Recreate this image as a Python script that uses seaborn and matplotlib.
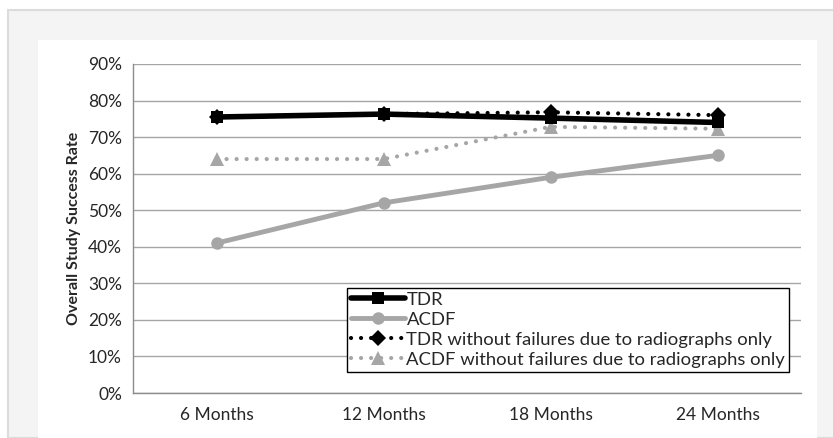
import matplotlib
matplotlib.use("Agg")
import matplotlib.pyplot as plt
import seaborn as sns
import numpy as np
from matplotlib.patches import Rectangle

# data
categories = ["6 Months", "12 Months", "18 Months", "24 Months"]
tdr = [75.5, 76.3, 75.2, 74.0]
acdf = [41.0, 52.0, 59.0, 65.0]
tdr_no_rad = [75.5, 76.3, 76.8, 76.0]
acdf_no_rad = [64.0, 64.0, 72.8, 72.3]

yticks = [0, 10, 20, 30, 40, 50, 60, 70, 80, 90]

sns.set_theme(style="white")
plt.rcParams['font.family'] = ['Lato', 'DejaVu Sans']

fig = plt.figure(figsize=(8.33, 4.38), dpi=100)
fig.patch.set_facecolor("white")

# gray frame and white panel behind the chart
W, H = 833, 438
fig.patches.append(Rectangle((8 / W, 0), 1, 1 - 10 / H, transform=fig.transFigure,
                             facecolor="#f4f4f4", edgecolor="#dcdcdc", linewidth=1.5, zorder=-2))
fig.patches.append(Rectangle((38 / W, 0), (817 - 38) / W, 1 - 40 / H, transform=fig.transFigure,
                             facecolor="white", edgecolor="none", zorder=-1))

ax = fig.add_axes([133 / W, 1 - 393 / H, (801 - 133) / W, (393 - 64) / H])
ax.set_facecolor("none")

x = np.arange(len(categories))
grey = "#a6a6a6"

sns.lineplot(x=x, y=acdf_no_rad, ax=ax, color=grey, linewidth=3,
             linestyle=(0, (0.01, 2.4)), dash_capstyle="round",
             marker="^", markersize=10, markeredgewidth=0, label="ACDF without failures due to radiographs only")
sns.lineplot(x=x, y=acdf, ax=ax, color=grey, linewidth=3.5,
             marker="o", markersize=9, markeredgewidth=0, label="ACDF")
sns.lineplot(x=x, y=tdr, ax=ax, color="black", linewidth=4,
             marker="s", markersize=9, markeredgewidth=0, label="TDR")
sns.lineplot(x=x, y=tdr_no_rad, ax=ax, color="black", linewidth=3,
             linestyle=(0, (0.01, 2.4)), dash_capstyle="round",
             marker="D", markersize=8, markeredgewidth=0, label="TDR without failures due to radiographs only")

ax.set_xlim(-0.5, len(categories) - 0.5)
ax.set_ylim(0, 90)
ax.set_yticks(yticks)
ax.set_yticklabels([f"{v}%" for v in yticks], fontsize=12.5, color="#262626")
ax.set_xticks(x)
ax.set_xticklabels(categories, fontsize=12.5, color="#262626")
ax.set_xticks(np.arange(-0.5, len(categories), 1), minor=True)
ax.tick_params(axis="x", which="major", length=0, pad=10)
ax.tick_params(axis="x", which="minor", length=5, width=1, color="#8c8c8c", direction="out")
ax.tick_params(axis="y", which="major", length=5, width=1, color="#8c8c8c", direction="out", pad=3)
ax.yaxis.grid(True, color="#a6a6a6", linewidth=1)
ax.set_axisbelow(True)

for s in ["top", "right"]:
    ax.spines[s].set_visible(False)
for s in ["left", "bottom"]:
    ax.spines[s].set_color("#8c8c8c")
    ax.spines[s].set_linewidth(1)

ax.set_ylabel("Overall Study Success Rate", fontsize=11.5, fontweight="bold", labelpad=5)
ax.set_xlabel("")

handles, labels = ax.get_legend_handles_labels()
order = ["TDR", "ACDF", "TDR without failures due to radiographs only",
         "ACDF without failures due to radiographs only"]
hmap = dict(zip(labels, handles))
leg = ax.legend([hmap[k] for k in order], order, loc="lower left",
                bbox_to_anchor=(347 / W, 1 - 372 / H), bbox_transform=fig.transFigure,
                frameon=True, fancybox=False, framealpha=1, edgecolor="black",
                fontsize=13.3, handlelength=2.9, handletextpad=0.1, labelspacing=0.22,
                borderpad=0.22, borderaxespad=0)
leg.get_frame().set_linewidth(1)
for t in leg.get_texts():
    t.set_color("#262626")

fig.savefig("out.png", dpi=100)
